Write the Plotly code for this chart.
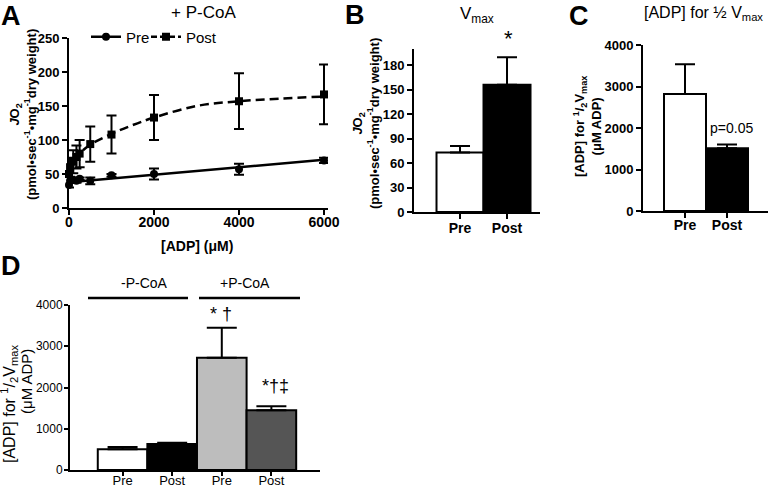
import plotly.graph_objects as go

W, H = 768, 488
def px(x): return x / W
def py(y): return 1 - y / H

F = "Liberation Sans, Arial, sans-serif"

# ---------------- Panel A data ----------------
adp_uM = [0, 25, 100, 175, 250, 500, 1000, 2000, 4000, 6000]
pre_jo2 = [34, 40, 41, 40, 43, 40, 48, 50, 57, 70]
pre_sem = [4, 3, 3, 3, 2, 5, 2, 8, 8, 4]
post_jo2 = [50, 60, 68, 75, 80, 94, 108, 133, 157, 167]
post_sem = [10, 14, 17, 17, 20, 26, 28, 33, 41, 44]
pre_fit_x = [0, 500, 1000, 2000, 4000, 6000]
pre_fit_y = [38, 40.7, 43.5, 49, 60, 71]
post_fit_x = [0, 100, 250, 500, 1000, 1500, 2000, 3000, 4000, 5000, 6000]
post_fit_y = [50, 66, 80, 93, 109, 122, 133, 150, 157, 161, 164]
a_xticks = [0, 2000, 4000, 6000]
a_yticks = [0, 50, 100, 150, 200, 250]

# ---------------- Panel B data ----------------
groups = ["Pre", "Post"]
vmax = [73, 156]
vmax_sem = [8, 34]
b_yticks = [0, 30, 60, 90, 120, 150, 180]

# ---------------- Panel C data ----------------
km = [2820, 1510]
km_sem = [715, 95]
c_yticks = [0, 1000, 2000, 3000, 4000]

# ---------------- Panel D data ----------------
d_groups = ["Pre", "Post", "Pre", "Post"]
d_km = [505, 630, 2720, 1450]
d_km_sem = [55, 30, 730, 95]
d_colors = ["white", "black", "#bdbdbd", "#555555"]
d_yticks = [0, 1000, 2000, 3000, 4000]

fig = go.Figure()

# Panel A
fig.add_trace(go.Scatter(x=pre_fit_x, y=pre_fit_y, mode="lines", line=dict(color="black", width=2.5),
                         showlegend=False, xaxis="x", yaxis="y", cliponaxis=False))
fig.add_trace(go.Scatter(x=post_fit_x, y=post_fit_y, mode="lines", line=dict(color="black", width=2.5, dash="9px,5px", shape="spline"),
                         showlegend=False, xaxis="x", yaxis="y", cliponaxis=False))
fig.add_trace(go.Scatter(x=adp_uM, y=pre_jo2, mode="markers", marker=dict(symbol="circle", size=8, color="black"),
                         error_y=dict(type="data", array=pre_sem, color="black", thickness=2, width=5),
                         showlegend=False, xaxis="x", yaxis="y", cliponaxis=False))
fig.add_trace(go.Scatter(x=adp_uM, y=post_jo2, mode="markers", marker=dict(symbol="square", size=8, color="black"),
                         error_y=dict(type="data", array=post_sem, color="black", thickness=2, width=5),
                         showlegend=False, xaxis="x", yaxis="y", cliponaxis=False))
fig.add_trace(go.Scatter(x=[None], y=[None], mode="lines+markers", name="Pre", legend="legend",
                         line=dict(color="black", width=2.5), marker=dict(symbol="circle", size=8, color="black"),
                         xaxis="x", yaxis="y"))
fig.add_trace(go.Scatter(x=[None], y=[None], mode="lines+markers", name="Post", legend="legend2",
                         line=dict(color="black", width=2.5, dash="6px,3px"), marker=dict(symbol="square", size=8, color="black"),
                         xaxis="x", yaxis="y"))

# Panel B
fig.add_trace(go.Bar(x=list(range(len(groups))), y=vmax, width=1,
                     marker=dict(color=["white", "black"], line=dict(color="black", width=2)),
                     error_y=dict(type="data", symmetric=False, array=vmax_sem, arrayminus=[0] * len(vmax),
                                  color="black", thickness=2, width=10),
                     showlegend=False, xaxis="x2", yaxis="y2"))

# Panel C
fig.add_trace(go.Bar(x=list(range(len(groups))), y=km, width=1,
                     marker=dict(color=["white", "black"], line=dict(color="black", width=2)),
                     error_y=dict(type="data", symmetric=False, array=km_sem, arrayminus=[0] * len(km),
                                  color="black", thickness=2, width=10),
                     showlegend=False, xaxis="x3", yaxis="y3"))

# Panel D
fig.add_trace(go.Bar(x=list(range(len(d_groups))), y=d_km, width=1,
                     marker=dict(color=d_colors, line=dict(color="black", width=2)),
                     error_y=dict(type="data", symmetric=False, array=d_km_sem, arrayminus=[0] * len(d_km),
                                  color="black", thickness=2, width=15),
                     showlegend=False, xaxis="x4", yaxis="y4"))

bold13 = dict(family=F, size=13, color="black", weight="bold")
norm13 = dict(family=F, size=13, color="black")

def ax(**kw):
    base = dict(showline=True, linecolor="black", linewidth=2, ticks="outside", ticklen=5, tickwidth=2,
                tickcolor="black", showgrid=False, zeroline=False, fixedrange=True, automargin=False)
    base.update(kw)
    return base

leg = dict(orientation="h", xanchor="left", yanchor="middle", y=py(37),
           font=dict(family=F, size=15, color="black"), bgcolor="rgba(0,0,0,0)", itemwidth=30)

layout = dict(
    width=W, height=H, margin=dict(l=0, r=0, t=0, b=0, pad=0, autoexpand=False),
    paper_bgcolor="white", plot_bgcolor="white",
    font=dict(family=F, color="black"),
    xaxis=ax(domain=[px(69), px(328)], range=[0, 6094], tickvals=a_xticks, tickfont=dict(bold13, size=14),
             anchor="y", ticklabelstandoff=-5),
    yaxis=ax(domain=[py(208), py(38)], range=[0, 250], tickvals=a_yticks, tickfont=bold13, anchor="x"),
    xaxis2=ax(domain=[px(414), px(540)], range=[-0.979, 1.702], tickvals=list(range(len(groups))), ticktext=groups,
              tickfont=dict(bold13, size=14), anchor="y2", ticklabelstandoff=-3),
    yaxis2=ax(domain=[py(212), py(49)], range=[0, 200], tickvals=b_yticks, tickfont=bold13, anchor="x2"),
    xaxis3=ax(domain=[px(643), px(768)], range=[-1.0, 1.976], tickvals=list(range(len(groups))), ticktext=groups,
              tickfont=dict(bold13, size=14), anchor="y3", ticklabelstandoff=-5),
    yaxis3=ax(domain=[py(211), py(45)], range=[0, 4000], tickvals=c_yticks, tickfont=bold13, anchor="x3"),
    xaxis4=ax(domain=[px(70), px(320)], range=[-1.06, 3.98], tickvals=list(range(len(d_groups))), ticktext=d_groups,
              tickfont=dict(norm13, size=13), anchor="y4", ticklen=4, ticklabelstandoff=-7),
    yaxis4=ax(domain=[py(470), py(305)], range=[0, 4000], tickvals=d_yticks, tickfont=dict(norm13, size=12),
              anchor="x4", ticklen=4, ticklabelstandoff=-1),
    legend=dict(leg, x=px(86)),
    legend2=dict(leg, x=px(146)),
    showlegend=True,
)

def ann(text, x, y, size, bold=False, angle=0, **kw):
    d = dict(text=text, x=px(x), y=py(y), xref="paper", yref="paper", showarrow=False,
             font=dict(family=F, size=size, color="black", weight="bold" if bold else "normal"),
             textangle=angle, xanchor="center", yanchor="middle")
    d.update(kw)
    return d

annotations = [
    ann("A", 11, 16, 27, True), ann("B", 355, 15, 27, True), ann("C", 579, 16, 27, True), ann("D", 11, 266, 27, True),
    ann("+ P-CoA", 203, 12, 17),
    ann("V<sub>max</sub>", 477, 15, 17),
    ann("[ADP] for ½ V<sub>max</sub>", 765, 14, 16, xanchor="right"),
    ann("<i>J</i>O<sub>2</sub><br>(pmol•sec<sup>-1</sup>•mg<sup>-1</sup>dry weight)", 23, 115, 13, True, -90),
    ann("<i>J</i>O<sub>2</sub><br>(pmol•sec<sup>-1</sup>•mg<sup>-1</sup>dry weight)", 366, 124, 13, True, -90),
    ann("[ADP] for <sup>1</sup>/<sub>2</sub>V<sub>max</sub><br>(μM ADP)", 588, 127, 13, True, -90),
    ann("[ADP] for <sup>1</sup>/<sub>2</sub>V<sub>max</sub>", 9, 404, 16, False, -90),
    ann("(μM ADP)", 26, 382, 15, False, -90),
    ann("[ADP] (μM)", 197, 246, 14, True),
    ann("*", 508, 38, 22),
    ann("p=0.05", 731, 128, 14),
    ann("-P-CoA", 144, 283, 14),
    ann("+P-CoA", 245, 283, 14),
    ann("* †", 221, 314, 18),
    ann("*†‡", 275, 386, 18),
]
layout["annotations"] = annotations
layout["shapes"] = [
    dict(type="line", xref="paper", yref="paper", x0=px(88), x1=px(188), y0=py(298), y1=py(298),
         line=dict(color="black", width=2.5)),
    dict(type="line", xref="paper", yref="paper", x0=px(199), x1=px(300), y0=py(298), y1=py(298),
         line=dict(color="black", width=2.5)),
]

fig.update_layout(**layout)
# remove the browser's default 8px body margin so the figure sits at the page origin
fig.write_html("out.html", config={"displayModeBar": False},
               post_script="document.body.style.margin='0';document.body.style.overflow='hidden';")
